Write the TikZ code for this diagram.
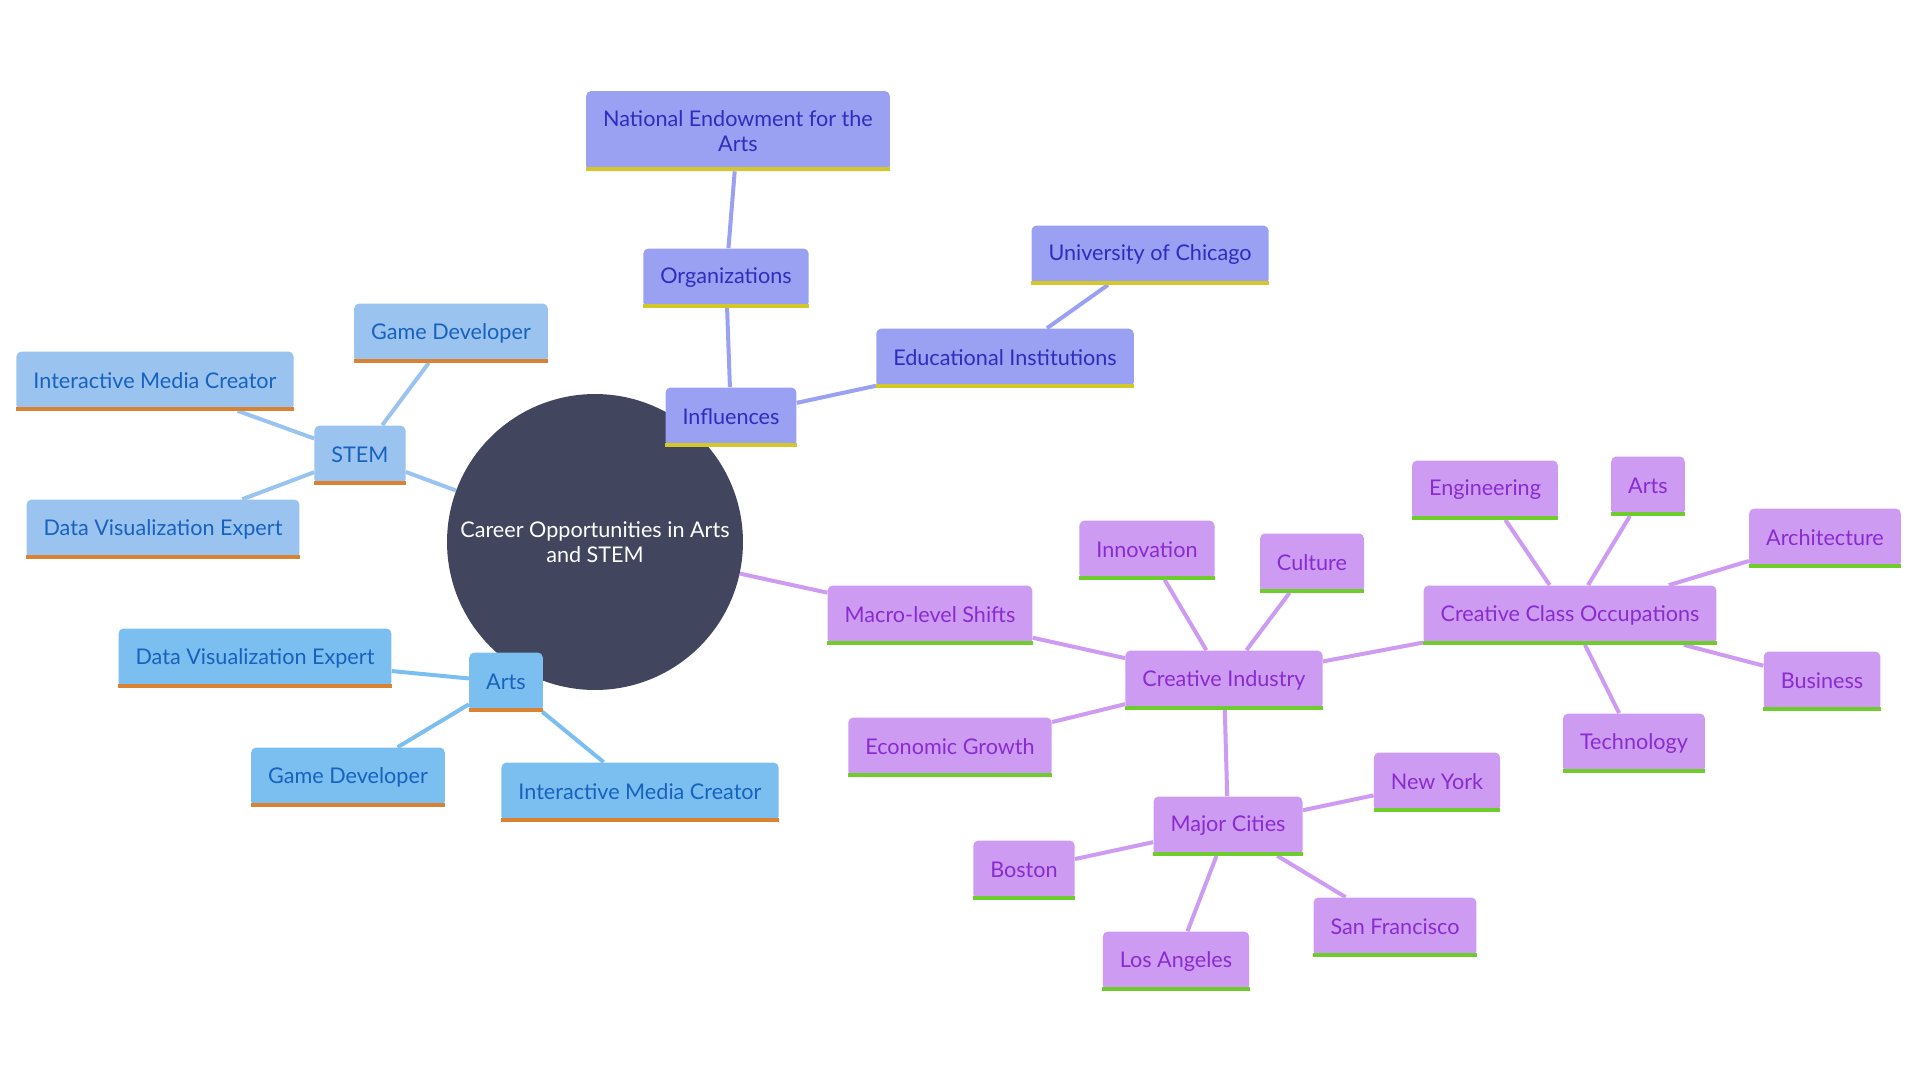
\documentclass[tikz,border=0pt]{standalone}
\usepackage{fontspec}
\setmainfont{Lato}
\usetikzlibrary{backgrounds}
\definecolor{mapdark}{RGB}{65, 69, 94}
\definecolor{mapsky}{RGB}{154, 195, 240}
\definecolor{mapazure}{RGB}{123, 190, 240}
\definecolor{mapnavy}{RGB}{24, 98, 190}
\definecolor{mapamber}{RGB}{217, 130, 50}
\definecolor{mapperi}{RGB}{154, 160, 242}
\definecolor{mapindigo}{RGB}{45, 45, 190}
\definecolor{mapmustard}{RGB}{212, 200, 40}
\definecolor{maplilac}{RGB}{206, 155, 242}
\definecolor{mapviolet}{RGB}{138, 43, 208}
\definecolor{maplime}{RGB}{110, 205, 45}

\begin{document}
\begin{tikzpicture}[x=0.02cm, y=-0.02cm,
        box/.style={rectangle, rounded corners=0.1cm, minimum height=1.18cm, inner xsep=0.34cm, align=center, font=\fontsize{12.3}{14.5}\selectfont},
        bar/.style={append after command={([yshift=0.04cm]\tikzlastnode.south west) edge[draw=#1, line width=0.08cm, rounded corners=0pt] ([yshift=0.04cm]\tikzlastnode.south east)}},
        stembox/.style={box, fill=mapsky, text=mapnavy, bar=mapamber},
        artsbox/.style={box, fill=mapazure, text=mapnavy, bar=mapamber},
        inflbox/.style={box, fill=mapperi, text=mapindigo, bar=mapmustard},
        ideabox/.style={box, fill=maplilac, text=mapviolet, bar=maplime},
        hub/.style={circle, fill=mapdark, text=white, minimum size=5.92cm, inner sep=0pt, align=center, font=\fontsize{12.3}{14.5}\selectfont},
        link/.style={line width=0.08cm}
    ]
        \useasboundingbox (0,0) rectangle (1920,1080);

        \node[hub] (hub) at (595,542) {Career Opportunities in Arts\\and STEM};

        % STEM branch
        \node[stembox] (stem) at (360,455) {STEM};
        \node[stembox] (stemgame) at (451,333) {Game Developer};
        \node[stembox] (stemmedia) at (155,381) {Interactive Media Creator};
        \node[stembox] (stemdata) at (163,529) {Data Visualization Expert};

        % Arts branch
        \node[artsbox] (arts) at (506,682) {Arts};
        \node[artsbox] (artsdata) at (255,658) {Data Visualization Expert};
        \node[artsbox] (artsgame) at (348,777) {Game Developer};
        \node[artsbox] (artsmedia) at (640,792) {Interactive Media Creator};

        % Influences branch
        \node[inflbox] (infl) at (731,417) {Influences};
        \node[inflbox] (orgs) at (726,278) {Organizations};
        \node[inflbox, minimum height=1.6cm] (nea) at (738,131) {National Endowment for the\\Arts};
        \node[inflbox] (edu) at (1005,358) {Educational Institutions};
        \node[inflbox] (uchicago) at (1150,255) {University of Chicago};

        % Macro-level branch
        \node[ideabox] (macro) at (930,615) {Macro-level Shifts};
        \node[ideabox] (creative) at (1224,680) {Creative Industry};
        \node[ideabox] (innov) at (1147,550) {Innovation};
        \node[ideabox] (culture) at (1312,563) {Culture};
        \node[ideabox] (econ) at (950,747) {Economic Growth};
        \node[ideabox] (cco) at (1570,615) {Creative Class Occupations};
        \node[ideabox] (engin) at (1485,490) {Engineering};
        \node[ideabox] (artsocc) at (1648,486) {Arts};
        \node[ideabox] (archi) at (1825,538) {Architecture};
        \node[ideabox] (business) at (1822,681) {Business};
        \node[ideabox] (techno) at (1634,743) {Technology};
        \node[ideabox] (cities) at (1228,826) {Major Cities};
        \node[ideabox] (newyork) at (1437,782) {New York};
        \node[ideabox] (boston) at (1024,870) {Boston};
        \node[ideabox] (la) at (1176,961) {Los Angeles};
        \node[ideabox] (sf) at (1395,927) {San Francisco};

        \begin{scope}[on background layer]
            \draw[link, mapsky] (hub) -- (stem);
            \draw[link, mapsky] (stem) -- (stemgame);
            \draw[link, mapsky] (stem) -- (stemmedia);
            \draw[link, mapsky] (stem) -- (stemdata);

            \draw[link, mapazure] (hub) -- (arts);
            \draw[link, mapazure] (arts) -- (artsdata);
            \draw[link, mapazure] (arts) -- (artsgame);
            \draw[link, mapazure] (arts) -- (artsmedia);

            \draw[link, mapperi] (hub) -- (infl);
            \draw[link, mapperi] (infl) -- (orgs);
            \draw[link, mapperi] (orgs) -- (nea);
            \draw[link, mapperi] (infl) -- (edu);
            \draw[link, mapperi] (edu) -- (uchicago);

            \draw[link, maplilac] (hub) -- (macro);
            \draw[link, maplilac] (macro) -- (creative);
            \draw[link, maplilac] (creative) -- (innov);
            \draw[link, maplilac] (creative) -- (culture);
            \draw[link, maplilac] (creative) -- (econ);
            \draw[link, maplilac] (creative) -- (cco);
            \draw[link, maplilac] (creative) -- (cities);
            \draw[link, maplilac] (cco) -- (engin);
            \draw[link, maplilac] (cco) -- (artsocc);
            \draw[link, maplilac] (cco) -- (archi);
            \draw[link, maplilac] (cco) -- (business);
            \draw[link, maplilac] (cco) -- (techno);
            \draw[link, maplilac] (cities) -- (newyork);
            \draw[link, maplilac] (cities) -- (boston);
            \draw[link, maplilac] (cities) -- (la);
            \draw[link, maplilac] (cities) -- (sf);
        \end{scope}
    \end{tikzpicture}
\end{document}
